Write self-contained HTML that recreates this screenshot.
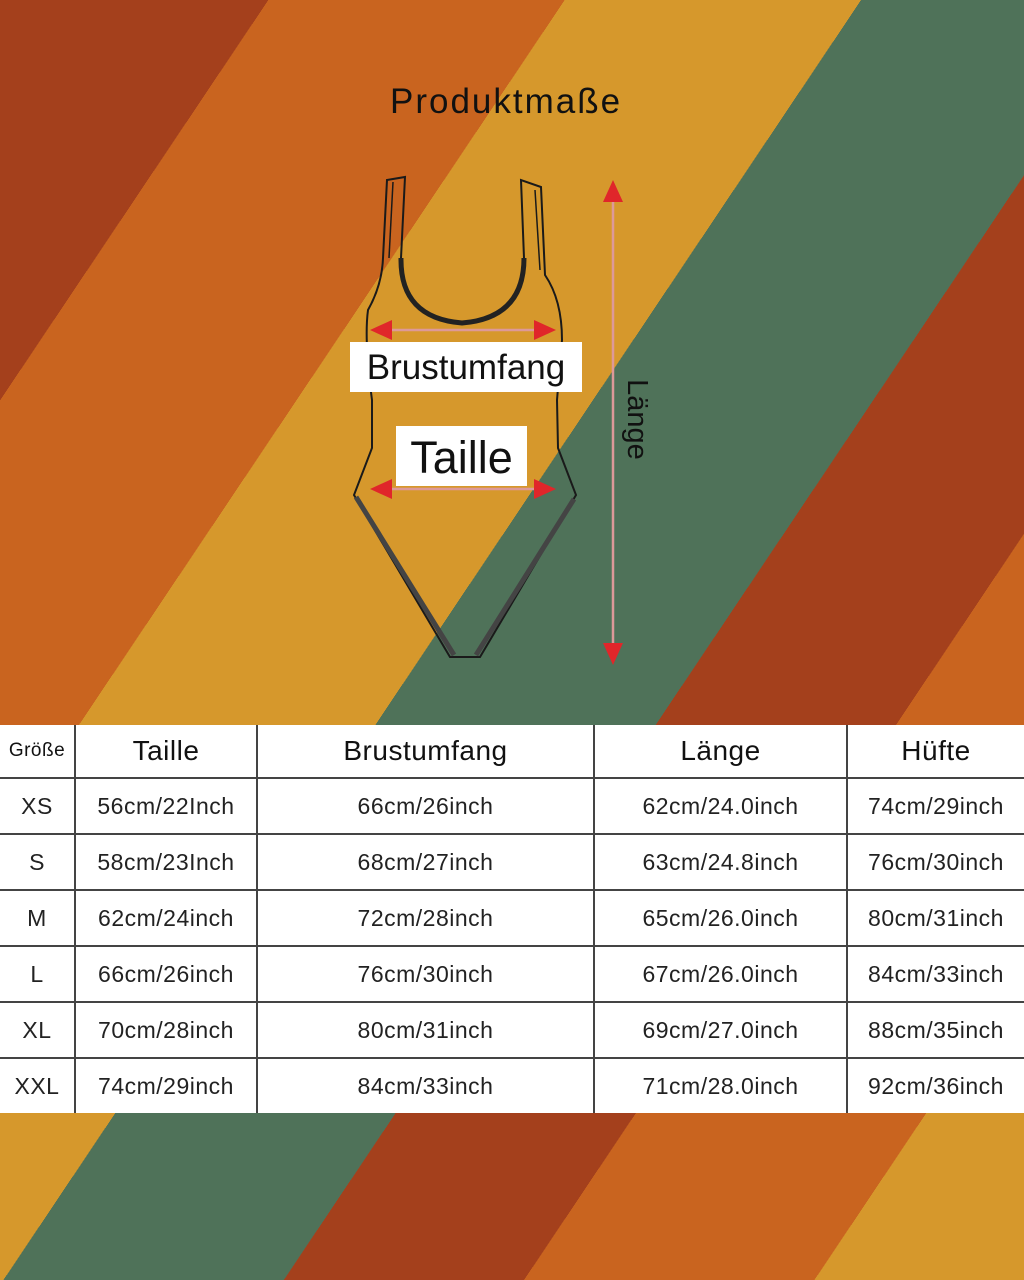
<!DOCTYPE html>
<html><head><meta charset="utf-8"><style>
body{margin:0;width:1024px;height:1280px;overflow:hidden;font-family:"Liberation Sans",sans-serif;}
.wrap{position:relative;width:1024px;height:1280px;}
svg{position:absolute;left:0;top:0}
.t{position:absolute;color:#111;white-space:nowrap;}
table{position:absolute;left:0;top:725px;width:1024px;border-collapse:collapse;background:#fff;}
td{border:2px solid #444;text-align:center;color:#222;font-size:23px;height:54px;padding:0;letter-spacing:0.5px}
tr:first-child td{font-size:28px;color:#111;height:52px}
tr td:first-child{border-left:none}
tr td:last-child{border-right:none}
tr:first-child td{border-top:none}
tr:last-child td{border-bottom:none}
</style></head><body><div class="wrap">
<svg width="1024" height="1280">
<defs><linearGradient id="g" gradientUnits="userSpaceOnUse" x1="0" y1="0" x2="1382" y2="926">
<stop offset="0" stop-color="#a4401c"/><stop offset="0.134" stop-color="#a4401c"/>
<stop offset="0.134" stop-color="#c9641f"/><stop offset="0.282" stop-color="#c9641f"/>
<stop offset="0.282" stop-color="#d6982c"/><stop offset="0.43" stop-color="#d6982c"/>
<stop offset="0.43" stop-color="#4f7259"/><stop offset="0.57" stop-color="#4f7259"/>
<stop offset="0.57" stop-color="#a4401c"/><stop offset="0.69" stop-color="#a4401c"/>
<stop offset="0.69" stop-color="#c9641f"/><stop offset="0.835" stop-color="#c9641f"/>
<stop offset="0.835" stop-color="#d6982c"/><stop offset="0.985" stop-color="#d6982c"/>
<stop offset="0.985" stop-color="#4f7259"/><stop offset="1" stop-color="#4f7259"/>
</linearGradient></defs>
<rect width="1024" height="1280" fill="url(#g)"/>
<g fill="none" stroke="#1a1a1a" stroke-width="2">
<path d="M387,180 L405,177 L401,258 Q400,318 462,323 Q524,318 524,258 L521,180 L541,187 L545,275 Q562,300 562,340 L557,400 L558,448 L576,495 L480,657 L450,657 L354,495 L372,448 L372,400 Q364,340 368,310 Q382,285 383,258 Z"/>
<path d="M393,182 L389,258" stroke-width="1.5"/>
<path d="M535,190 L540,270" stroke-width="1.5"/>
</g>
<path d="M401,258 Q400,318 462,323 Q524,318 524,258" fill="none" stroke="#222" stroke-width="5"/>
<path d="M356,497 L454,655 M574,499 L476,655" fill="none" stroke="#444" stroke-width="5"/>
<g stroke="#d99" stroke-width="2.5">
<line x1="613" y1="195" x2="613" y2="650"/>
<line x1="385" y1="330" x2="540" y2="330"/>
<line x1="385" y1="489" x2="540" y2="489"/>
</g>
<g fill="#e0262a">
<polygon points="613,180 603,202 623,202"/><polygon points="613,665 603,643 623,643"/>
<polygon points="370,330 392,320 392,340"/><polygon points="556,330 534,320 534,340"/>
<polygon points="370,489 392,479 392,499"/><polygon points="556,489 534,479 534,499"/>
</g>
</svg>
<div class="t" style="left:390px;top:82px;font-size:35px;letter-spacing:2px;">Produktmaße</div>
<div class="t" style="left:350px;top:342px;width:232px;height:50px;background:#fff;font-size:35px;line-height:52px;text-align:center;">Brustumfang</div>
<div class="t" style="left:396px;top:426px;width:131px;height:60px;background:#fff;font-size:45px;line-height:64px;text-align:center;">Taille</div>
<div class="t" style="left:596px;top:403px;font-size:29px;transform:rotate(90deg);transform-origin:center;">Länge</div>
<table>
<tr><td style="width:74px;font-size:19px">Größe</td><td style="width:180px">Taille</td><td style="width:335px">Brustumfang</td><td style="width:251px">Länge</td><td>Hüfte</td></tr>
<tr><td>XS</td><td>56cm/22Inch</td><td>66cm/26inch</td><td>62cm/24.0inch</td><td>74cm/29inch</td></tr>
<tr><td>S</td><td>58cm/23Inch</td><td>68cm/27inch</td><td>63cm/24.8inch</td><td>76cm/30inch</td></tr>
<tr><td>M</td><td>62cm/24inch</td><td>72cm/28inch</td><td>65cm/26.0inch</td><td>80cm/31inch</td></tr>
<tr><td>L</td><td>66cm/26inch</td><td>76cm/30inch</td><td>67cm/26.0inch</td><td>84cm/33inch</td></tr>
<tr><td>XL</td><td>70cm/28inch</td><td>80cm/31inch</td><td>69cm/27.0inch</td><td>88cm/35inch</td></tr>
<tr><td>XXL</td><td>74cm/29inch</td><td>84cm/33inch</td><td>71cm/28.0inch</td><td>92cm/36inch</td></tr>
</table>
</div></body></html>
